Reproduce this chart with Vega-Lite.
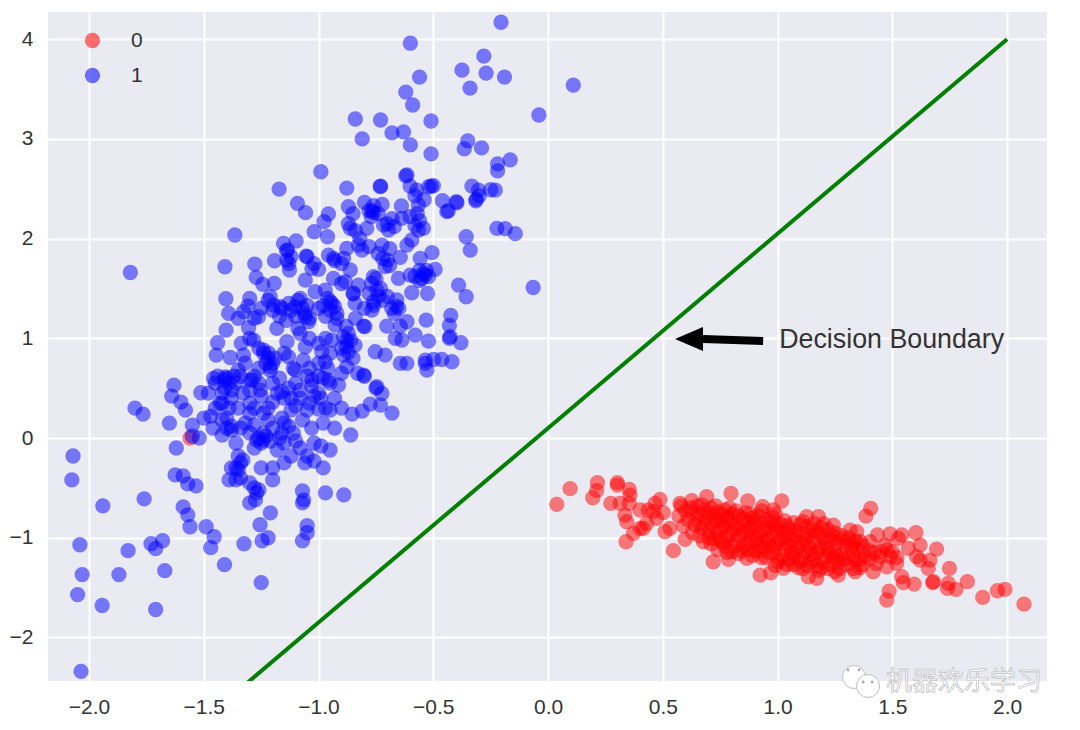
{"$schema":"https://vega.github.io/schema/vega-lite/v6.json","width":999,"height":669,"autosize":"none","padding":{"left":48,"top":12,"right":33,"bottom":49},"background":"white","config":{"view":{"fill":"#EAEAF2","stroke":null},"font":"Liberation Sans"},"encoding":{"x":{"field":"x","type":"quantitative","scale":{"domain":[-2.179,2.174],"nice":false,"zero":false},"axis":{"values":[-2,-1.5,-1,-0.5,0,0.5,1,1.5,2],"format":".1f","title":null,"grid":true,"gridColor":"white","gridWidth":2,"domain":false,"ticks":false,"labelFont":"Liberation Sans","labelFontSize":21,"labelColor":"#333333","labelPadding":15}},"y":{"field":"y","type":"quantitative","scale":{"domain":[-2.437,4.273],"nice":false,"zero":false},"axis":{"values":[-2,-1,0,1,2,3,4],"format":"d","title":null,"grid":true,"gridColor":"white","gridWidth":2,"domain":false,"ticks":false,"labelFont":"Liberation Sans","labelFontSize":21,"labelColor":"#333333","labelPadding":15}}},"layer":[{"data":{"values":[{"x":-1.56,"y":0,"k":"0"},{"x":0.038,"y":-0.666,"k":"0"},{"x":0.096,"y":-0.508,"k":"0"},{"x":0.215,"y":-0.448,"k":"0"},{"x":0.212,"y":-0.528,"k":"0"},{"x":0.195,"y":-0.599,"k":"0"},{"x":0.302,"y":-0.448,"k":"0"},{"x":0.302,"y":-0.472,"k":"0"},{"x":0.354,"y":-0.515,"k":"0"},{"x":0.273,"y":-0.656,"k":"0"},{"x":0.314,"y":-0.656,"k":"0"},{"x":0.357,"y":-0.572,"k":"0"},{"x":0.354,"y":-0.656,"k":"0"},{"x":0.488,"y":-0.615,"k":"0"},{"x":0.466,"y":-0.656,"k":"0"},{"x":0.437,"y":-0.722,"k":"0"},{"x":0.401,"y":-0.722,"k":"0"},{"x":0.459,"y":-0.739,"k":"0"},{"x":0.502,"y":-0.749,"k":"0"},{"x":0.473,"y":-0.806,"k":"0"},{"x":0.335,"y":-0.773,"k":"0"},{"x":0.343,"y":-0.84,"k":"0"},{"x":0.43,"y":-0.856,"k":"0"},{"x":0.401,"y":-0.906,"k":"0"},{"x":0.415,"y":-0.906,"k":"0"},{"x":0.372,"y":-0.956,"k":"0"},{"x":0.34,"y":-1.04,"k":"0"},{"x":0.51,"y":-0.94,"k":"0"},{"x":0.531,"y":-0.906,"k":"0"},{"x":0.546,"y":-1.13,"k":"0"},{"x":0.597,"y":-1.017,"k":"0"},{"x":0.575,"y":-0.656,"k":"0"},{"x":0.626,"y":-0.629,"k":"0"},{"x":0.691,"y":-0.589,"k":"0"},{"x":0.797,"y":-0.555,"k":"0"},{"x":0.87,"y":-0.632,"k":"0"},{"x":0.935,"y":-0.689,"k":"0"},{"x":1.018,"y":-0.632,"k":"0"},{"x":0.982,"y":-0.722,"k":"0"},{"x":1.127,"y":-0.79,"k":"0"},{"x":1.178,"y":-0.79,"k":"0"},{"x":1.243,"y":-0.873,"k":"0"},{"x":1.316,"y":-0.923,"k":"0"},{"x":1.345,"y":-0.94,"k":"0"},{"x":1.406,"y":-0.706,"k":"0"},{"x":1.385,"y":-0.783,"k":"0"},{"x":1.435,"y":-0.973,"k":"0"},{"x":1.49,"y":-0.963,"k":"0"},{"x":1.541,"y":-0.973,"k":"0"},{"x":1.603,"y":-0.95,"k":"0"},{"x":1.526,"y":-1.007,"k":"0"},{"x":1.403,"y":-1.04,"k":"0"},{"x":1.468,"y":-1.074,"k":"0"},{"x":1.57,"y":-1.107,"k":"0"},{"x":1.621,"y":-1.074,"k":"0"},{"x":1.693,"y":-1.114,"k":"0"},{"x":1.606,"y":-1.19,"k":"0"},{"x":1.621,"y":-1.224,"k":"0"},{"x":1.664,"y":-1.224,"k":"0"},{"x":1.657,"y":-1.308,"k":"0"},{"x":1.749,"y":-1.308,"k":"0"},{"x":1.679,"y":-1.441,"k":"0"},{"x":1.676,"y":-1.451,"k":"0"},{"x":1.744,"y":-1.458,"k":"0"},{"x":1.74,"y":-1.508,"k":"0"},{"x":1.778,"y":-1.518,"k":"0"},{"x":1.827,"y":-1.441,"k":"0"},{"x":1.894,"y":-1.599,"k":"0"},{"x":1.958,"y":-1.532,"k":"0"},{"x":1.991,"y":-1.518,"k":"0"},{"x":2.074,"y":-1.666,"k":"0"},{"x":1.595,"y":-1.465,"k":"0"},{"x":1.548,"y":-1.451,"k":"0"},{"x":1.541,"y":-1.391,"k":"0"},{"x":1.486,"y":-1.535,"k":"0"},{"x":1.476,"y":-1.625,"k":"0"},{"x":1.476,"y":-1.291,"k":"0"},{"x":1.519,"y":-1.257,"k":"0"},{"x":1.49,"y":-1.19,"k":"0"},{"x":1.417,"y":-1.341,"k":"0"},{"x":1.446,"y":-1.19,"k":"0"},{"x":1.403,"y":-1.207,"k":"0"},{"x":0.924,"y":-1.375,"k":"0"},{"x":0.97,"y":-1.351,"k":"0"},{"x":1.025,"y":-1.308,"k":"0"},{"x":1.134,"y":-1.391,"k":"0"},{"x":1.171,"y":-1.408,"k":"0"},{"x":1.265,"y":-1.375,"k":"0"},{"x":1.338,"y":-1.341,"k":"0"},{"x":0.72,"y":-1.241,"k":"0"},{"x":0.786,"y":-1.217,"k":"0"},{"x":0.866,"y":-1.207,"k":"0"},{"x":0.677,"y":-1.04,"k":"0"},{"x":0.58,"y":-0.68,"k":"0"},{"x":0.57,"y":-0.78,"k":"0"},{"x":0.59,"y":-0.88,"k":"0"},{"x":0.62,"y":-0.7,"k":"0"},{"x":0.61,"y":-0.82,"k":"0"},{"x":0.63,"y":-0.95,"k":"0"},{"x":0.65,"y":-0.68,"k":"0"},{"x":0.66,"y":-0.76,"k":"0"},{"x":0.64,"y":-0.87,"k":"0"},{"x":0.66,"y":-0.98,"k":"0"},{"x":0.68,"y":-0.72,"k":"0"},{"x":0.69,"y":-0.8,"k":"0"},{"x":0.67,"y":-0.9,"k":"0"},{"x":0.7,"y":-1,"k":"0"},{"x":0.71,"y":-0.7,"k":"0"},{"x":0.72,"y":-0.78,"k":"0"},{"x":0.71,"y":-0.86,"k":"0"},{"x":0.73,"y":-0.96,"k":"0"},{"x":0.71,"y":-1.06,"k":"0"},{"x":0.74,"y":-0.74,"k":"0"},{"x":0.75,"y":-0.83,"k":"0"},{"x":0.74,"y":-0.92,"k":"0"},{"x":0.75,"y":-1.02,"k":"0"},{"x":0.74,"y":-1.12,"k":"0"},{"x":0.77,"y":-0.72,"k":"0"},{"x":0.78,"y":-0.8,"k":"0"},{"x":0.77,"y":-0.88,"k":"0"},{"x":0.79,"y":-0.97,"k":"0"},{"x":0.77,"y":-1.08,"k":"0"},{"x":0.8,"y":-0.76,"k":"0"},{"x":0.81,"y":-0.85,"k":"0"},{"x":0.8,"y":-0.93,"k":"0"},{"x":0.82,"y":-1.03,"k":"0"},{"x":0.8,"y":-1.14,"k":"0"},{"x":0.83,"y":-0.78,"k":"0"},{"x":0.84,"y":-0.88,"k":"0"},{"x":0.83,"y":-0.98,"k":"0"},{"x":0.85,"y":-1.08,"k":"0"},{"x":0.83,"y":-1.16,"k":"0"},{"x":0.86,"y":-0.75,"k":"0"},{"x":0.87,"y":-0.84,"k":"0"},{"x":0.86,"y":-0.93,"k":"0"},{"x":0.88,"y":-1.02,"k":"0"},{"x":0.87,"y":-1.12,"k":"0"},{"x":0.89,"y":-0.8,"k":"0"},{"x":0.9,"y":-0.89,"k":"0"},{"x":0.89,"y":-0.97,"k":"0"},{"x":0.91,"y":-1.06,"k":"0"},{"x":0.89,"y":-1.18,"k":"0"},{"x":0.92,"y":-0.78,"k":"0"},{"x":0.93,"y":-0.86,"k":"0"},{"x":0.92,"y":-0.95,"k":"0"},{"x":0.94,"y":-1.04,"k":"0"},{"x":0.92,"y":-1.14,"k":"0"},{"x":0.95,"y":-0.82,"k":"0"},{"x":0.96,"y":-0.9,"k":"0"},{"x":0.95,"y":-1,"k":"0"},{"x":0.97,"y":-1.09,"k":"0"},{"x":0.95,"y":-1.2,"k":"0"},{"x":0.98,"y":-0.8,"k":"0"},{"x":0.99,"y":-0.88,"k":"0"},{"x":0.98,"y":-0.96,"k":"0"},{"x":1,"y":-1.05,"k":"0"},{"x":0.98,"y":-1.15,"k":"0"},{"x":1,"y":-1.24,"k":"0"},{"x":1.01,"y":-0.86,"k":"0"},{"x":1.02,"y":-0.94,"k":"0"},{"x":1.01,"y":-1.02,"k":"0"},{"x":1.03,"y":-1.11,"k":"0"},{"x":1.01,"y":-1.22,"k":"0"},{"x":1.04,"y":-0.88,"k":"0"},{"x":1.05,"y":-0.97,"k":"0"},{"x":1.04,"y":-1.06,"k":"0"},{"x":1.06,"y":-1.15,"k":"0"},{"x":1.04,"y":-1.27,"k":"0"},{"x":1.07,"y":-0.85,"k":"0"},{"x":1.08,"y":-0.93,"k":"0"},{"x":1.07,"y":-1.02,"k":"0"},{"x":1.09,"y":-1.1,"k":"0"},{"x":1.07,"y":-1.2,"k":"0"},{"x":1.09,"y":-1.3,"k":"0"},{"x":1.1,"y":-0.87,"k":"0"},{"x":1.11,"y":-0.96,"k":"0"},{"x":1.1,"y":-1.05,"k":"0"},{"x":1.12,"y":-1.14,"k":"0"},{"x":1.1,"y":-1.24,"k":"0"},{"x":1.13,"y":-0.89,"k":"0"},{"x":1.14,"y":-0.98,"k":"0"},{"x":1.13,"y":-1.07,"k":"0"},{"x":1.15,"y":-1.17,"k":"0"},{"x":1.13,"y":-1.28,"k":"0"},{"x":1.16,"y":-0.86,"k":"0"},{"x":1.17,"y":-0.94,"k":"0"},{"x":1.16,"y":-1.03,"k":"0"},{"x":1.18,"y":-1.12,"k":"0"},{"x":1.16,"y":-1.22,"k":"0"},{"x":1.18,"y":-1.33,"k":"0"},{"x":1.19,"y":-0.9,"k":"0"},{"x":1.2,"y":-1,"k":"0"},{"x":1.19,"y":-1.09,"k":"0"},{"x":1.21,"y":-1.18,"k":"0"},{"x":1.19,"y":-1.3,"k":"0"},{"x":1.22,"y":-0.92,"k":"0"},{"x":1.23,"y":-1.02,"k":"0"},{"x":1.22,"y":-1.11,"k":"0"},{"x":1.24,"y":-1.2,"k":"0"},{"x":1.22,"y":-1.31,"k":"0"},{"x":1.25,"y":-0.95,"k":"0"},{"x":1.26,"y":-1.05,"k":"0"},{"x":1.25,"y":-1.14,"k":"0"},{"x":1.27,"y":-1.24,"k":"0"},{"x":1.25,"y":-1.34,"k":"0"},{"x":1.28,"y":-0.98,"k":"0"},{"x":1.29,"y":-1.07,"k":"0"},{"x":1.28,"y":-1.17,"k":"0"},{"x":1.3,"y":-1.27,"k":"0"},{"x":1.31,"y":-1,"k":"0"},{"x":1.32,"y":-1.1,"k":"0"},{"x":1.31,"y":-1.2,"k":"0"},{"x":1.33,"y":-1.31,"k":"0"},{"x":1.34,"y":-1.03,"k":"0"},{"x":1.35,"y":-1.12,"k":"0"},{"x":1.34,"y":-1.22,"k":"0"},{"x":1.36,"y":-1.3,"k":"0"},{"x":1.37,"y":-1.08,"k":"0"},{"x":1.38,"y":-1.18,"k":"0"},{"x":1.37,"y":-1.27,"k":"0"},{"x":0.6,"y":-0.73,"k":"0"},{"x":0.63,"y":-0.76,"k":"0"},{"x":0.65,"y":-0.82,"k":"0"},{"x":0.67,"y":-0.67,"k":"0"},{"x":0.68,"y":-0.86,"k":"0"},{"x":0.7,"y":-0.75,"k":"0"},{"x":0.7,"y":-0.93,"k":"0"},{"x":0.73,"y":-0.68,"k":"0"},{"x":0.73,"y":-0.82,"k":"0"},{"x":0.72,"y":-1.01,"k":"0"},{"x":0.76,"y":-0.77,"k":"0"},{"x":0.76,"y":-0.9,"k":"0"},{"x":0.76,"y":-1.05,"k":"0"},{"x":0.79,"y":-0.7,"k":"0"},{"x":0.79,"y":-0.84,"k":"0"},{"x":0.78,"y":-1.01,"k":"0"},{"x":0.78,"y":-1.15,"k":"0"},{"x":0.82,"y":-0.73,"k":"0"},{"x":0.82,"y":-0.9,"k":"0"},{"x":0.81,"y":-1.08,"k":"0"},{"x":0.85,"y":-0.81,"k":"0"},{"x":0.85,"y":-0.96,"k":"0"},{"x":0.84,"y":-1.13,"k":"0"},{"x":0.88,"y":-0.76,"k":"0"},{"x":0.88,"y":-0.91,"k":"0"},{"x":0.87,"y":-1.06,"k":"0"},{"x":0.9,"y":-0.83,"k":"0"},{"x":0.91,"y":-1,"k":"0"},{"x":0.9,"y":-1.13,"k":"0"},{"x":0.93,"y":-0.73,"k":"0"},{"x":0.94,"y":-0.92,"k":"0"},{"x":0.93,"y":-1.09,"k":"0"},{"x":0.93,"y":-1.2,"k":"0"},{"x":0.97,"y":-0.85,"k":"0"},{"x":0.96,"y":-1.03,"k":"0"},{"x":0.96,"y":-1.15,"k":"0"},{"x":0.99,"y":-0.76,"k":"0"},{"x":1,"y":-0.92,"k":"0"},{"x":0.99,"y":-1.09,"k":"0"},{"x":0.99,"y":-1.28,"k":"0"},{"x":1.03,"y":-0.83,"k":"0"},{"x":1.03,"y":-1,"k":"0"},{"x":1.02,"y":-1.18,"k":"0"},{"x":1.05,"y":-0.91,"k":"0"},{"x":1.06,"y":-1.08,"k":"0"},{"x":1.05,"y":-1.22,"k":"0"},{"x":1.08,"y":-0.98,"k":"0"},{"x":1.08,"y":-1.16,"k":"0"},{"x":1.07,"y":-1.27,"k":"0"},{"x":1.11,"y":-0.84,"k":"0"},{"x":1.12,"y":-1.02,"k":"0"},{"x":1.11,"y":-1.2,"k":"0"},{"x":1.11,"y":-1.31,"k":"0"},{"x":1.15,"y":-0.92,"k":"0"},{"x":1.14,"y":-1.1,"k":"0"},{"x":1.14,"y":-1.24,"k":"0"},{"x":1.18,"y":-0.96,"k":"0"},{"x":1.17,"y":-1.15,"k":"0"},{"x":1.17,"y":-1.28,"k":"0"},{"x":1.2,"y":-0.86,"k":"0"},{"x":1.21,"y":-1.05,"k":"0"},{"x":1.2,"y":-1.24,"k":"0"},{"x":1.24,"y":-0.98,"k":"0"},{"x":1.23,"y":-1.16,"k":"0"},{"x":1.23,"y":-1.27,"k":"0"},{"x":1.27,"y":-1.01,"k":"0"},{"x":1.26,"y":-1.19,"k":"0"},{"x":1.27,"y":-1.31,"k":"0"},{"x":1.3,"y":-1.04,"k":"0"},{"x":1.29,"y":-1.22,"k":"0"},{"x":1.33,"y":-1.07,"k":"0"},{"x":1.33,"y":-1.17,"k":"0"},{"x":1.36,"y":-1.04,"k":"0"},{"x":1.36,"y":-1.22,"k":"0"},{"x":1.4,"y":-1.13,"k":"0"},{"x":1.42,"y":-1.15,"k":"0"},{"x":1.45,"y":-1.14,"k":"0"},{"x":1.48,"y":-1.12,"k":"0"},{"x":1.5,"y":-1.14,"k":"0"},{"x":1.52,"y":-1.2,"k":"0"},{"x":1.43,"y":-1.26,"k":"0"},{"x":-1.172,"y":2.497,"k":"1"},{"x":-1.092,"y":2.354,"k":"1"},{"x":-1.057,"y":2.26,"k":"1"},{"x":-1.365,"y":2.036,"k":"1"},{"x":-1.408,"y":1.718,"k":"1"},{"x":-1.278,"y":1.745,"k":"1"},{"x":-1.272,"y":1.611,"k":"1"},{"x":-1.243,"y":1.541,"k":"1"},{"x":-1.193,"y":1.551,"k":"1"},{"x":-1.404,"y":1.397,"k":"1"},{"x":-1.153,"y":1.952,"k":"1"},{"x":-1.098,"y":1.976,"k":"1"},{"x":-1.135,"y":1.885,"k":"1"},{"x":-1.192,"y":1.778,"k":"1"},{"x":-1.138,"y":1.785,"k":"1"},{"x":-1.054,"y":1.825,"k":"1"},{"x":-1.127,"y":1.685,"k":"1"},{"x":-1.029,"y":1.701,"k":"1"},{"x":-1,"y":1.691,"k":"1"},{"x":-1.019,"y":2.069,"k":"1"},{"x":-0.961,"y":2.019,"k":"1"},{"x":-0.957,"y":2.247,"k":"1"},{"x":-0.976,"y":2.17,"k":"1"},{"x":-0.99,"y":2.671,"k":"1"},{"x":-0.877,"y":2.507,"k":"1"},{"x":-0.73,"y":2.527,"k":"1"},{"x":-0.731,"y":2.521,"k":"1"},{"x":-0.87,"y":2.32,"k":"1"},{"x":-0.8,"y":2.364,"k":"1"},{"x":-0.768,"y":2.28,"k":"1"},{"x":-0.761,"y":2.26,"k":"1"},{"x":-0.723,"y":2.343,"k":"1"},{"x":-0.639,"y":2.327,"k":"1"},{"x":-0.565,"y":2.337,"k":"1"},{"x":-0.615,"y":2.638,"k":"1"},{"x":-0.601,"y":2.527,"k":"1"},{"x":-0.572,"y":2.487,"k":"1"},{"x":-0.509,"y":2.527,"k":"1"},{"x":-0.46,"y":2.38,"k":"1"},{"x":-0.397,"y":2.36,"k":"1"},{"x":-0.441,"y":2.27,"k":"1"},{"x":-0.332,"y":2.527,"k":"1"},{"x":-0.313,"y":2.394,"k":"1"},{"x":-0.303,"y":2.487,"k":"1"},{"x":-0.23,"y":2.487,"k":"1"},{"x":-0.223,"y":2.103,"k":"1"},{"x":-0.357,"y":2.019,"k":"1"},{"x":-0.339,"y":1.885,"k":"1"},{"x":-0.39,"y":1.534,"k":"1"},{"x":-0.357,"y":1.417,"k":"1"},{"x":-0.424,"y":1.23,"k":"1"},{"x":-0.427,"y":1.016,"k":"1"},{"x":-0.38,"y":0.956,"k":"1"},{"x":-0.419,"y":0.765,"k":"1"},{"x":-0.463,"y":0.788,"k":"1"},{"x":-0.499,"y":0.788,"k":"1"},{"x":-0.535,"y":0.748,"k":"1"},{"x":-0.528,"y":0.681,"k":"1"},{"x":-0.535,"y":0.782,"k":"1"},{"x":-0.521,"y":0.972,"k":"1"},{"x":-0.531,"y":1.183,"k":"1"},{"x":-0.525,"y":1.45,"k":"1"},{"x":-0.594,"y":1.457,"k":"1"},{"x":-0.492,"y":1.691,"k":"1"},{"x":-0.506,"y":1.859,"k":"1"},{"x":-0.557,"y":1.802,"k":"1"},{"x":-0.535,"y":1.634,"k":"1"},{"x":-0.543,"y":1.651,"k":"1"},{"x":-0.601,"y":1.634,"k":"1"},{"x":-0.652,"y":1.601,"k":"1"},{"x":-0.644,"y":1.812,"k":"1"},{"x":-0.7,"y":1.785,"k":"1"},{"x":-0.724,"y":1.935,"k":"1"},{"x":-0.811,"y":1.885,"k":"1"},{"x":-0.826,"y":1.935,"k":"1"},{"x":-0.877,"y":1.902,"k":"1"},{"x":-0.862,"y":2.103,"k":"1"},{"x":-0.79,"y":2.103,"k":"1"},{"x":-0.717,"y":2.136,"k":"1"},{"x":-0.695,"y":2.086,"k":"1"},{"x":-0.637,"y":2.203,"k":"1"},{"x":-0.601,"y":2.22,"k":"1"},{"x":-0.565,"y":2.086,"k":"1"},{"x":-0.543,"y":2.103,"k":"1"},{"x":-0.594,"y":1.986,"k":"1"},{"x":-0.615,"y":1.935,"k":"1"},{"x":-0.935,"y":1.802,"k":"1"},{"x":-0.957,"y":1.835,"k":"1"},{"x":-0.891,"y":1.802,"k":"1"},{"x":-0.862,"y":1.685,"k":"1"},{"x":-0.884,"y":1.568,"k":"1"},{"x":-0.935,"y":1.601,"k":"1"},{"x":-1.058,"y":1.584,"k":"1"},{"x":-0.826,"y":1.534,"k":"1"},{"x":-0.848,"y":1.45,"k":"1"},{"x":-0.841,"y":1.35,"k":"1"},{"x":-0.761,"y":1.618,"k":"1"},{"x":-0.746,"y":1.484,"k":"1"},{"x":-0.761,"y":1.367,"k":"1"},{"x":-0.768,"y":1.283,"k":"1"},{"x":-0.659,"y":1.384,"k":"1"},{"x":-0.681,"y":1.3,"k":"1"},{"x":-0.804,"y":1.123,"k":"1"},{"x":-0.798,"y":1.118,"k":"1"},{"x":-0.703,"y":1.123,"k":"1"},{"x":-0.644,"y":1.123,"k":"1"},{"x":-0.615,"y":1.166,"k":"1"},{"x":-0.579,"y":1.032,"k":"1"},{"x":-0.666,"y":1,"k":"1"},{"x":-0.637,"y":0.982,"k":"1"},{"x":-0.753,"y":0.865,"k":"1"},{"x":-0.71,"y":0.832,"k":"1"},{"x":-0.644,"y":0.748,"k":"1"},{"x":-0.615,"y":0.748,"k":"1"},{"x":-0.949,"y":1.367,"k":"1"},{"x":-0.942,"y":1.35,"k":"1"},{"x":-0.971,"y":1.484,"k":"1"},{"x":-1.015,"y":1.467,"k":"1"},{"x":-1.08,"y":1.4,"k":"1"},{"x":-1.102,"y":1.317,"k":"1"},{"x":-1.058,"y":1.216,"k":"1"},{"x":-1.044,"y":1.166,"k":"1"},{"x":-1.196,"y":1.333,"k":"1"},{"x":-1.167,"y":1.317,"k":"1"},{"x":-1.211,"y":1.417,"k":"1"},{"x":-1.262,"y":1.216,"k":"1"},{"x":-1.327,"y":1.267,"k":"1"},{"x":-1.308,"y":1.323,"k":"1"},{"x":-1.392,"y":1.25,"k":"1"},{"x":-1.403,"y":1.083,"k":"1"},{"x":-1.305,"y":1.106,"k":"1"},{"x":-1.337,"y":0.949,"k":"1"},{"x":-1.327,"y":0.832,"k":"1"},{"x":-1.44,"y":0.956,"k":"1"},{"x":-1.446,"y":0.832,"k":"1"},{"x":-1.385,"y":0.808,"k":"1"},{"x":-1.283,"y":0.982,"k":"1"},{"x":-1.24,"y":0.882,"k":"1"},{"x":-1.218,"y":0.85,"k":"1"},{"x":-1.211,"y":0.715,"k":"1"},{"x":-1.182,"y":1.1,"k":"1"},{"x":-1.138,"y":0.966,"k":"1"},{"x":-1.131,"y":0.815,"k":"1"},{"x":-1.058,"y":0.915,"k":"1"},{"x":-1.066,"y":0.782,"k":"1"},{"x":-1.102,"y":0.681,"k":"1"},{"x":-0.986,"y":0.865,"k":"1"},{"x":-0.971,"y":0.765,"k":"1"},{"x":-0.942,"y":0.982,"k":"1"},{"x":-0.928,"y":1.133,"k":"1"},{"x":-0.891,"y":1.016,"k":"1"},{"x":-0.877,"y":0.98,"k":"1"},{"x":-0.891,"y":0.832,"k":"1"},{"x":-0.841,"y":0.932,"k":"1"},{"x":-0.877,"y":0.715,"k":"1"},{"x":-0.804,"y":0.631,"k":"1"},{"x":-0.746,"y":0.514,"k":"1"},{"x":-0.724,"y":0.447,"k":"1"},{"x":-0.913,"y":0.531,"k":"1"},{"x":-0.957,"y":0.581,"k":"1"},{"x":-1.029,"y":0.581,"k":"1"},{"x":-1.08,"y":0.48,"k":"1"},{"x":-1.16,"y":0.464,"k":"1"},{"x":-1.254,"y":0.48,"k":"1"},{"x":-1.291,"y":0.581,"k":"1"},{"x":-1.407,"y":0.614,"k":"1"},{"x":-1.458,"y":0.598,"k":"1"},{"x":-1.378,"y":0.48,"k":"1"},{"x":-1.513,"y":0.454,"k":"1"},{"x":-1.63,"y":0.53,"k":"1"},{"x":-1.64,"y":0.42,"k":"1"},{"x":-1.6,"y":0.36,"k":"1"},{"x":-1.58,"y":0.28,"k":"1"},{"x":-1.65,"y":0.15,"k":"1"},{"x":-1.55,"y":0.13,"k":"1"},{"x":-1.62,"y":-0.1,"k":"1"},{"x":-1.625,"y":-0.37,"k":"1"},{"x":-1.59,"y":-0.38,"k":"1"},{"x":-1.57,"y":-0.46,"k":"1"},{"x":-1.534,"y":-0.48,"k":"1"},{"x":-1.59,"y":-0.69,"k":"1"},{"x":-1.57,"y":-0.77,"k":"1"},{"x":-1.56,"y":-0.89,"k":"1"},{"x":-1.49,"y":-0.89,"k":"1"},{"x":-1.455,"y":-0.99,"k":"1"},{"x":-1.47,"y":-1.1,"k":"1"},{"x":-1.41,"y":-1.27,"k":"1"},{"x":-1.8,"y":0.3,"k":"1"},{"x":-1.765,"y":0.24,"k":"1"},{"x":-1.82,"y":1.66,"k":"1"},{"x":-2.07,"y":-0.18,"k":"1"},{"x":-2.075,"y":-0.42,"k":"1"},{"x":-1.94,"y":-0.68,"k":"1"},{"x":-2.04,"y":-1.07,"k":"1"},{"x":-2.03,"y":-1.37,"k":"1"},{"x":-2.05,"y":-1.57,"k":"1"},{"x":-1.943,"y":-1.68,"k":"1"},{"x":-2.035,"y":-2.34,"k":"1"},{"x":-1.83,"y":-1.13,"k":"1"},{"x":-1.87,"y":-1.37,"k":"1"},{"x":-1.76,"y":-0.61,"k":"1"},{"x":-1.73,"y":-1.06,"k":"1"},{"x":-1.68,"y":-1.03,"k":"1"},{"x":-1.71,"y":-1.11,"k":"1"},{"x":-1.67,"y":-1.33,"k":"1"},{"x":-1.71,"y":-1.72,"k":"1"},{"x":-1.325,"y":-1.06,"k":"1"},{"x":-1.246,"y":-1.03,"k":"1"},{"x":-1.255,"y":-0.87,"k":"1"},{"x":-1.21,"y":-0.75,"k":"1"},{"x":-1.22,"y":-1,"k":"1"},{"x":-1.25,"y":-1.45,"k":"1"},{"x":-1.05,"y":-0.88,"k":"1"},{"x":-1.07,"y":-1.03,"k":"1"},{"x":-1.05,"y":-0.95,"k":"1"},{"x":-1.07,"y":-0.53,"k":"1"},{"x":-1.07,"y":-0.65,"k":"1"},{"x":-1.065,"y":-0.62,"k":"1"},{"x":-0.97,"y":-0.55,"k":"1"},{"x":-0.89,"y":-0.57,"k":"1"},{"x":-1.2,"y":-0.42,"k":"1"},{"x":-1.26,"y":-0.52,"k":"1"},{"x":-1.275,"y":-0.62,"k":"1"},{"x":-1.3,"y":-0.65,"k":"1"},{"x":-1.36,"y":-0.42,"k":"1"},{"x":-1.39,"y":-0.42,"k":"1"},{"x":-0.86,"y":0.03,"k":"1"},{"x":-0.68,"y":0.25,"k":"1"},{"x":-0.73,"y":0.33,"k":"1"},{"x":-0.75,"y":0.5,"k":"1"},{"x":-0.854,"y":0.24,"k":"1"},{"x":-0.775,"y":0.34,"k":"1"},{"x":-0.81,"y":0.27,"k":"1"},{"x":-1.48,"y":0.45,"k":"1"},{"x":-1.45,"y":0.3,"k":"1"},{"x":-1.46,"y":0.1,"k":"1"},{"x":-1.42,"y":0.35,"k":"1"},{"x":-1.4,"y":0.6,"k":"1"},{"x":-1.44,"y":0.62,"k":"1"},{"x":-1.45,"y":0.55,"k":"1"},{"x":-1.41,"y":0.5,"k":"1"},{"x":-1.38,"y":0.4,"k":"1"},{"x":-1.36,"y":0.55,"k":"1"},{"x":-1.35,"y":0.3,"k":"1"},{"x":-1.33,"y":0.45,"k":"1"},{"x":-1.3,"y":0.25,"k":"1"},{"x":-1.28,"y":0.3,"k":"1"},{"x":-1.38,"y":0.12,"k":"1"},{"x":-1.38,"y":0.08,"k":"1"},{"x":-1.32,"y":0.15,"k":"1"},{"x":-1.3,"y":0.05,"k":"1"},{"x":-1.36,"y":-0.05,"k":"1"},{"x":-1.35,"y":-0.18,"k":"1"},{"x":-1.38,"y":-0.3,"k":"1"},{"x":-1.35,"y":-0.32,"k":"1"},{"x":-1.28,"y":-0.1,"k":"1"},{"x":-1.26,"y":0,"k":"1"},{"x":-1.25,"y":-0.05,"k":"1"},{"x":-1.23,"y":0.02,"k":"1"},{"x":-1.2,"y":0.1,"k":"1"},{"x":-1.21,"y":-0.03,"k":"1"},{"x":-1.18,"y":-0.12,"k":"1"},{"x":-1.15,"y":-0.05,"k":"1"},{"x":-1.13,"y":0.12,"k":"1"},{"x":-1.11,"y":0.05,"k":"1"},{"x":-1.16,"y":0.2,"k":"1"},{"x":-1.12,"y":0.28,"k":"1"},{"x":-1.1,"y":0.32,"k":"1"},{"x":-1.05,"y":0.28,"k":"1"},{"x":-1,"y":0.29,"k":"1"},{"x":-0.97,"y":0.3,"k":"1"},{"x":-0.98,"y":0.15,"k":"1"},{"x":-1.03,"y":0.1,"k":"1"},{"x":-1.02,"y":-0.05,"k":"1"},{"x":-0.99,"y":-0.08,"k":"1"},{"x":-1.05,"y":-0.18,"k":"1"},{"x":-1.02,"y":-0.23,"k":"1"},{"x":-0.98,"y":-0.3,"k":"1"},{"x":-0.95,"y":-0.12,"k":"1"},{"x":-0.93,"y":0.1,"k":"1"},{"x":-0.93,"y":0.4,"k":"1"},{"x":-0.9,"y":0.3,"k":"1"},{"x":-0.95,"y":0.55,"k":"1"},{"x":-0.98,"y":0.6,"k":"1"},{"x":-1.08,"y":0.4,"k":"1"},{"x":-1.15,"y":0.4,"k":"1"},{"x":-1.2,"y":0.36,"k":"1"},{"x":-1.25,"y":0.42,"k":"1"},{"x":-1.26,"y":0.55,"k":"1"},{"x":-1.3,"y":0.58,"k":"1"},{"x":-1.35,"y":0.68,"k":"1"},{"x":-1.32,"y":0.75,"k":"1"},{"x":-1.26,"y":0.7,"k":"1"},{"x":-1.2,"y":0.55,"k":"1"},{"x":-1.17,"y":0.6,"k":"1"},{"x":-1.13,"y":0.5,"k":"1"},{"x":-1.05,"y":0.62,"k":"1"},{"x":-0.96,"y":0.7,"k":"1"},{"x":-0.9,"y":0.65,"k":"1"},{"x":-0.83,"y":0.65,"k":"1"},{"x":-0.8,"y":0.62,"k":"1"},{"x":-1.42,"y":0.03,"k":"1"},{"x":-1.5,"y":0.2,"k":"1"},{"x":-1.52,"y":0,"k":"1"},{"x":-1.55,"y":0.02,"k":"1"},{"x":-1.33,"y":-0.22,"k":"1"},{"x":-1.25,"y":-0.3,"k":"1"},{"x":-1.2,"y":-0.3,"k":"1"},{"x":-1.15,"y":-0.25,"k":"1"},{"x":-1.12,"y":-0.18,"k":"1"},{"x":-1.08,"y":-0.1,"k":"1"},{"x":-1.34,"y":-0.4,"k":"1"},{"x":-1.06,"y":-0.25,"k":"1"},{"x":-1.24,"y":0.25,"k":"1"},{"x":-1.22,"y":0.18,"k":"1"},{"x":-1.28,"y":0.13,"k":"1"},{"x":-1.02,"y":0.42,"k":"1"},{"x":-1,"y":0.45,"k":"1"},{"x":-1.03,"y":0.52,"k":"1"},{"x":-1.1,"y":0.55,"k":"1"},{"x":-0.205,"y":4.17,"k":"1"},{"x":-0.6,"y":3.96,"k":"1"},{"x":-0.56,"y":3.62,"k":"1"},{"x":-0.62,"y":3.47,"k":"1"},{"x":-0.59,"y":3.34,"k":"1"},{"x":-0.375,"y":3.69,"k":"1"},{"x":-0.28,"y":3.83,"k":"1"},{"x":-0.27,"y":3.66,"k":"1"},{"x":-0.19,"y":3.62,"k":"1"},{"x":0.11,"y":3.54,"k":"1"},{"x":-0.34,"y":3.51,"k":"1"},{"x":-0.04,"y":3.24,"k":"1"},{"x":-0.84,"y":3.2,"k":"1"},{"x":-0.73,"y":3.19,"k":"1"},{"x":-0.51,"y":3.18,"k":"1"},{"x":-0.68,"y":3.06,"k":"1"},{"x":-0.63,"y":3.07,"k":"1"},{"x":-0.81,"y":3,"k":"1"},{"x":-0.6,"y":2.94,"k":"1"},{"x":-0.51,"y":2.85,"k":"1"},{"x":-0.35,"y":2.98,"k":"1"},{"x":-0.365,"y":2.9,"k":"1"},{"x":-0.29,"y":2.91,"k":"1"},{"x":-0.22,"y":2.75,"k":"1"},{"x":-0.165,"y":2.79,"k":"1"},{"x":-0.22,"y":2.68,"k":"1"},{"x":-0.143,"y":2.05,"k":"1"},{"x":-0.187,"y":2.1,"k":"1"},{"x":-0.065,"y":1.51,"k":"1"},{"x":-0.25,"y":2.49,"k":"1"},{"x":-0.3,"y":2.43,"k":"1"},{"x":-0.315,"y":2.38,"k":"1"},{"x":-0.4,"y":2.37,"k":"1"},{"x":-0.435,"y":2.28,"k":"1"},{"x":-0.5,"y":2.53,"k":"1"},{"x":-0.52,"y":2.52,"k":"1"},{"x":-0.58,"y":2.43,"k":"1"},{"x":-0.62,"y":2.63,"k":"1"},{"x":-0.54,"y":2.39,"k":"1"},{"x":-0.43,"y":1.13,"k":"1"},{"x":-0.43,"y":1,"k":"1"},{"x":-1.16,"y":1.3,"k":"1"},{"x":-1.13,"y":1.35,"k":"1"},{"x":-1.12,"y":1.28,"k":"1"},{"x":-1.1,"y":1.22,"k":"1"},{"x":-1.09,"y":1.38,"k":"1"},{"x":-1.07,"y":1.3,"k":"1"},{"x":-1.06,"y":1.25,"k":"1"},{"x":-1.05,"y":1.33,"k":"1"},{"x":-1.04,"y":1.2,"k":"1"},{"x":-1.14,"y":1.18,"k":"1"},{"x":-1.09,"y":1.1,"k":"1"},{"x":-1.17,"y":1.22,"k":"1"},{"x":-1,"y":1.3,"k":"1"},{"x":-0.98,"y":1.33,"k":"1"},{"x":-0.96,"y":1.4,"k":"1"},{"x":-0.93,"y":1.32,"k":"1"},{"x":-0.95,"y":1.28,"k":"1"},{"x":-0.92,"y":1.25,"k":"1"},{"x":-0.97,"y":1.22,"k":"1"},{"x":-1.24,"y":0.85,"k":"1"},{"x":-1.22,"y":0.8,"k":"1"},{"x":-1.23,"y":0.75,"k":"1"},{"x":-1.2,"y":0.75,"k":"1"},{"x":-1.26,"y":0.9,"k":"1"},{"x":-1.21,"y":0.68,"k":"1"},{"x":-1.19,"y":0.8,"k":"1"},{"x":-1.41,"y":0.58,"k":"1"},{"x":-1.39,"y":0.55,"k":"1"},{"x":-1.42,"y":0.45,"k":"1"},{"x":-1.37,"y":0.62,"k":"1"},{"x":-1.39,"y":0.3,"k":"1"},{"x":-0.97,"y":1,"k":"1"},{"x":-1,"y":0.95,"k":"1"},{"x":-1.04,"y":1,"k":"1"},{"x":-1.08,"y":1.05,"k":"1"},{"x":-0.9,"y":0.9,"k":"1"},{"x":-0.88,"y":0.92,"k":"1"},{"x":-0.85,"y":0.8,"k":"1"},{"x":-0.87,"y":0.86,"k":"1"},{"x":-0.95,"y":0.85,"k":"1"},{"x":-1,"y":0.75,"k":"1"},{"x":-1.04,"y":0.7,"k":"1"},{"x":-1.15,"y":0.85,"k":"1"},{"x":-1.3,"y":1,"k":"1"},{"x":-0.77,"y":1.55,"k":"1"},{"x":-0.75,"y":1.6,"k":"1"},{"x":-0.74,"y":1.42,"k":"1"},{"x":-0.72,"y":1.38,"k":"1"},{"x":-0.78,"y":1.45,"k":"1"},{"x":-0.73,"y":1.5,"k":"1"},{"x":-0.7,"y":1.42,"k":"1"},{"x":-0.67,"y":1.25,"k":"1"},{"x":-0.66,"y":1.32,"k":"1"},{"x":-0.65,"y":1.3,"k":"1"},{"x":-0.76,"y":1.33,"k":"1"},{"x":-0.8,"y":1.3,"k":"1"},{"x":-0.71,"y":1.72,"k":"1"},{"x":-0.72,"y":1.8,"k":"1"},{"x":-0.69,"y":1.73,"k":"1"},{"x":-0.58,"y":1.62,"k":"1"},{"x":-0.56,"y":1.68,"k":"1"},{"x":-0.55,"y":1.6,"k":"1"},{"x":-0.52,"y":1.62,"k":"1"},{"x":-0.53,"y":1.68,"k":"1"},{"x":-0.56,"y":1.58,"k":"1"},{"x":-0.78,"y":2.28,"k":"1"},{"x":-0.77,"y":2.22,"k":"1"},{"x":-0.74,"y":2.25,"k":"1"},{"x":-0.76,"y":2.33,"k":"1"},{"x":-0.7,"y":2.15,"k":"1"},{"x":-0.67,"y":2.12,"k":"1"},{"x":-0.68,"y":2.2,"k":"1"},{"x":-0.58,"y":2.13,"k":"1"},{"x":-0.56,"y":2.18,"k":"1"},{"x":-0.57,"y":2.25,"k":"1"},{"x":-0.85,"y":2.25,"k":"1"},{"x":-0.87,"y":2.15,"k":"1"},{"x":-0.84,"y":2.08,"k":"1"},{"x":-0.82,"y":2,"k":"1"},{"x":-0.78,"y":1.92,"k":"1"},{"x":-0.74,"y":1.85,"k":"1"},{"x":-0.69,"y":1.9,"k":"1"},{"x":-0.93,"y":1.78,"k":"1"},{"x":-0.9,"y":1.75,"k":"1"},{"x":-1.14,"y":1.88,"k":"1"},{"x":-1.12,"y":1.82,"k":"1"},{"x":-1.13,"y":1.75,"k":"1"},{"x":-1.05,"y":1.82,"k":"1"},{"x":-1.02,"y":1.75,"k":"1"},{"x":-0.9,"y":1.55,"k":"1"},{"x":-0.85,"y":1.45,"k":"1"},{"x":-0.92,"y":1.2,"k":"1"},{"x":-0.88,"y":1.12,"k":"1"},{"x":-0.87,"y":1.05,"k":"1"},{"x":-0.86,"y":0.98,"k":"1"},{"x":-0.84,"y":1.2,"k":"1"},{"x":-1.2,"y":1.28,"k":"1"},{"x":-1.25,"y":1.3,"k":"1"},{"x":-1.22,"y":1.38,"k":"1"},{"x":-1.3,"y":1.4,"k":"1"},{"x":-1.28,"y":1.2,"k":"1"},{"x":-1.35,"y":1.2,"k":"1"},{"x":-1.34,"y":0.1,"k":"1"},{"x":-1.24,"y":0.05,"k":"1"},{"x":-1.24,"y":-0.02,"k":"1"},{"x":-1.27,"y":-0.02,"k":"1"},{"x":-1.17,"y":0,"k":"1"},{"x":-1.1,"y":-0.03,"k":"1"},{"x":-1.3,"y":-0.45,"k":"1"},{"x":-1.28,"y":-0.5,"k":"1"},{"x":-1.27,"y":-0.55,"k":"1"},{"x":-1.34,"y":-0.25,"k":"1"},{"x":-1.36,"y":-0.3,"k":"1"},{"x":-1.22,"y":0.3,"k":"1"},{"x":-1.3,"y":0.35,"k":"1"},{"x":-1.07,"y":0.18,"k":"1"},{"x":-0.95,"y":0.28,"k":"1"},{"x":-1.12,"y":0.4,"k":"1"},{"x":-1.18,"y":0.45,"k":"1"},{"x":-1.4,"y":0.2,"k":"1"},{"x":-1.42,"y":0.18,"k":"1"},{"x":-1.4,"y":0.1,"k":"1"},{"x":-1.43,"y":0.35,"k":"1"},{"x":-1.47,"y":0.22,"k":"1"},{"x":-1.34,"y":0.62,"k":"1"},{"x":-1.28,"y":0.62,"k":"1"},{"x":-1.11,"y":0.7,"k":"1"},{"x":-1,"y":0.62,"k":"1"},{"x":-0.99,"y":0.4,"k":"1"},{"x":-1.04,"y":0.35,"k":"1"},{"x":-1.15,"y":0.15,"k":"1"},{"x":-1.16,"y":0.05,"k":"1"},{"x":-1.3,"y":0.48,"k":"1"}]},"mark":{"type":"point","filled":true,"shape":"circle","size":235,"opacity":0.5,"strokeWidth":0},"encoding":{"color":{"field":"k","type":"nominal","scale":{"domain":["0","1"],"range":["#ff0000","#0000ff"]},"legend":{"orient":"none","legendX":34,"legendY":18,"title":null,"symbolType":"circle","symbolSize":235,"symbolOpacity":0.55,"symbolStrokeWidth":0,"labelFont":"Liberation Sans","labelFontSize":21,"labelColor":"#333333","labelOffset":28,"rowPadding":13}}}},{"data":{"values":[{"x":-2,"y":-3.8},{"x":2,"y":4}]},"mark":{"type":"line","color":"#008000","strokeWidth":4,"clip":true}},{"data":{"values":[{"x":0.937,"y":0.973},{"x":0.675,"y":0.993}]},"mark":{"type":"line","color":"black","strokeWidth":8}},{"data":{"values":[{"x":0.614,"y":0.993}]},"mark":{"type":"point","filled":true,"shape":"M-1,0L1,-0.85L1,0.85Z","size":784,"color":"black","opacity":1,"strokeWidth":0}},{"data":{"values":[{"x":1.007,"y":0.98,"t":"Decision Boundary"}]},"mark":{"type":"text","align":"left","baseline":"middle","font":"Liberation Sans","fontSize":26.8,"color":"#333333"},"encoding":{"text":{"field":"t"}}},{"data":{"values":[{"x":1.333,"y":-2.397},{"x":1.394,"y":-2.487}]},"mark":{"type":"point","filled":true,"shape":"circle","size":530,"fill":"white","stroke":"#bdbdbd","strokeWidth":1,"opacity":1}},{"data":{"values":[{"x":1.307,"y":-2.327},{"x":1.355,"y":-2.327},{"x":1.373,"y":-2.447},{"x":1.412,"y":-2.447}]},"mark":{"type":"point","filled":true,"shape":"circle","size":8,"color":"#a8a8a8","opacity":1,"strokeWidth":0}},{"data":{"values":[{"x":1.473,"y":-2.45,"t":"机器欢乐学习"}]},"mark":{"type":"text","align":"left","baseline":"middle","font":"Noto Sans CJK SC","fontSize":26,"fill":"white","stroke":"#b0b0b0","strokeWidth":0.6},"encoding":{"text":{"field":"t"}}}]}
